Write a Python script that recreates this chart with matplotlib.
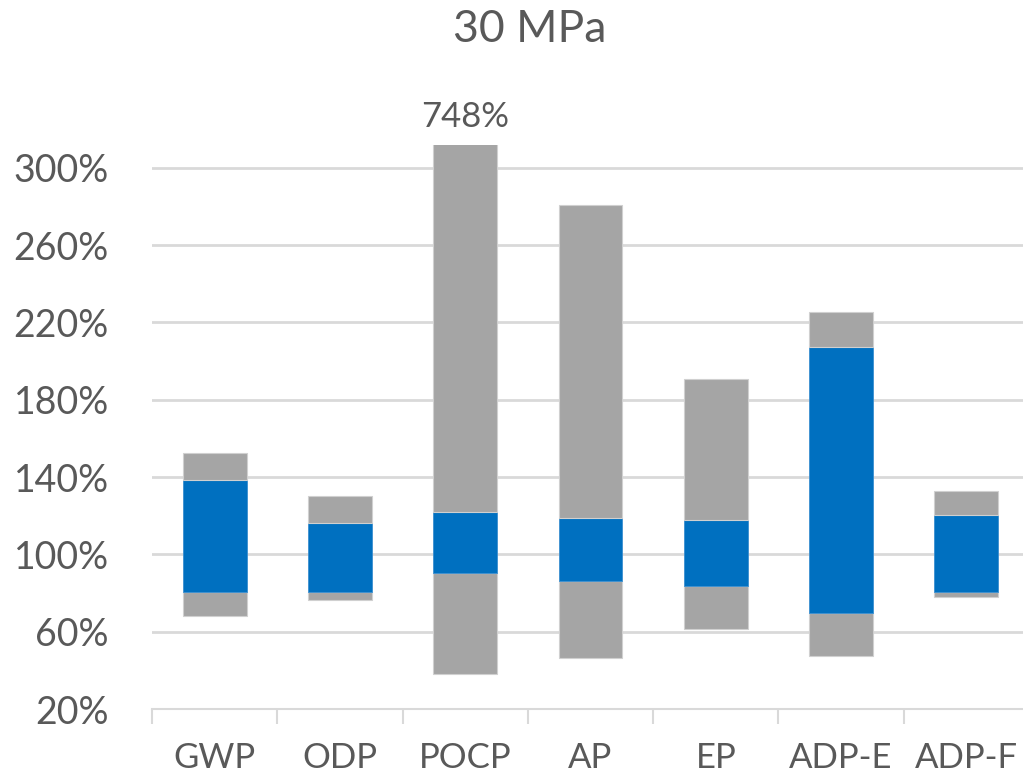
import matplotlib
matplotlib.use("Agg")
import matplotlib.pyplot as plt
from matplotlib.ticker import FixedLocator

categories = ["GWP", "ODP", "POCP", "AP", "EP", "ADP-E", "ADP-F"]
# values in fraction (1.0 = 100%)
low = [0.682, 0.765, 0.379, 0.462, 0.614, 0.475, 0.779]
blue_low = [0.805, 0.805, 0.903, 0.862, 0.834, 0.696, 0.805]
blue_high = [1.384, 1.163, 1.219, 1.189, 1.177, 2.074, 1.203]
high = [1.522, 1.302, 7.48, 2.805, 1.908, 2.252, 1.329]
yticks = [0.2, 0.6, 1.0, 1.4, 1.8, 2.2, 2.6, 3.0]
title = "30 MPa"

GRAY = "#A5A5A5"
BLUE = "#0070C0"
TXT = "#595959"
GRID = "#D9D9D9"

plt.rcParams['font.family'] = ['Lato', 'DejaVu Sans']

fig = plt.figure(figsize=(10.23, 7.81), dpi=100)
W, H = 1023, 781
ax = fig.add_axes([152 / W, 1 - 709 / H, (1029 - 152) / W, (709 - 144.5) / H])

x = list(range(len(categories)))
bw = 0.51
ax.bar(x, [b - a for a, b in zip(low, blue_low)], bottom=low, width=bw,
       color=GRAY, edgecolor="#D0D0D0", linewidth=0.8, zorder=3)
ax.bar(x, [b - a for a, b in zip(blue_low, blue_high)], bottom=blue_low, width=bw,
       color=BLUE, edgecolor="#3A8FD0", linewidth=0.6, zorder=3)
ax.bar(x, [b - a for a, b in zip(blue_high, high)], bottom=blue_high, width=bw,
       color=GRAY, edgecolor="#D0D0D0", linewidth=0.8, zorder=3)

ymin, ymax = 0.2, 3.12
ax.set_ylim(ymin, ymax)
ax.set_xlim(-0.5, len(categories) - 0.5)

# label for clipped bar
for i, h in enumerate(high):
    if h > ymax:
        ax.annotate(f"{h*100:.0f}%", xy=(i, ymax), xytext=(0, 8),
                    textcoords="offset points", ha="center", va="bottom",
                    fontsize=25, color=TXT, annotation_clip=False)

ax.set_yticks(yticks)
ax.set_yticklabels([f"{v*100:.0f}%" for v in yticks])
ax.yaxis.grid(True, color=GRID, linewidth=2, zorder=0)
ax.set_axisbelow(True)
ax.tick_params(axis="y", length=0, labelsize=27, labelcolor=TXT, pad=31)

ax.set_xticks(x)
ax.set_xticklabels(categories)
ax.xaxis.set_minor_locator(FixedLocator([i - 0.5 for i in range(len(categories) + 1)]))
ax.tick_params(axis="x", which="major", length=0, labelsize=25, labelcolor=TXT, pad=24)
ax.tick_params(axis="x", which="minor", length=11, width=1.5, color=GRID)

for s in ["top", "right", "left"]:
    ax.spines[s].set_visible(False)
ax.spines["bottom"].set_color(GRID)
ax.spines["bottom"].set_linewidth(1.5)

fig.text(530 / W, 1 - 30 / H, title, ha="center", va="center", fontsize=32, color=TXT)

fig.savefig("out.png", dpi=100, facecolor="white")
